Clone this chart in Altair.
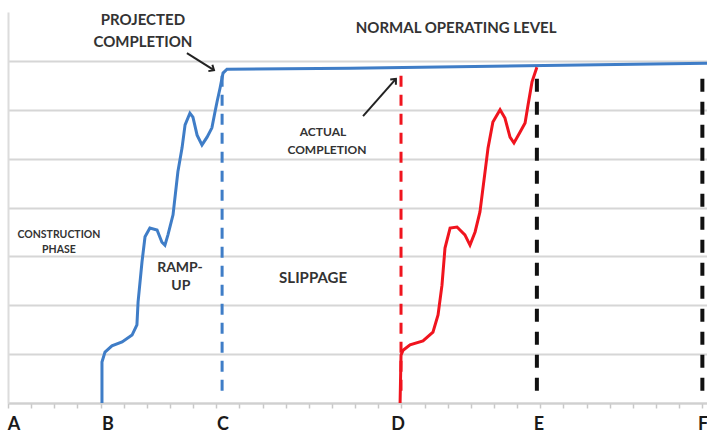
import altair as alt
import pandas as pd

# ---- data ----
# projected (blue) ramp-up curve and normal operating level
blue_x = [4.06, 4.06, 4.19, 4.49, 4.93, 5.36, 5.57, 5.62, 5.79, 5.92, 6.13, 6.44, 6.65, 6.78,
          6.91, 7.13, 7.34, 7.52, 7.65, 7.86, 7.99, 8.17, 8.38, 8.60, 8.81, 8.94, 9.03, 9.16,
          9.29, 9.46, 14.78, 30.2]
blue_y = [0.0, 0.84, 1.04, 1.17, 1.25, 1.39, 1.60, 2.07, 2.89, 3.40, 3.58, 3.54, 3.29, 3.23,
          3.44, 3.85, 4.73, 5.22, 5.69, 5.93, 5.85, 5.48, 5.28, 5.44, 5.63, 5.95, 6.16, 6.44,
          6.75, 6.83, 6.85, 6.95]
# actual (red) ramp-up curve
red_x = [16.94, 16.98, 17.07, 17.37, 17.93, 18.36, 18.58, 18.75, 18.88, 19.10, 19.40, 19.74,
         19.96, 20.18, 20.39, 20.61, 20.74, 20.95, 21.26, 21.47, 21.69, 21.86, 22.12, 22.34,
         22.47, 22.64, 22.85]
red_y = [0.0, 0.98, 1.08, 1.19, 1.27, 1.45, 1.80, 2.41, 3.17, 3.58, 3.60, 3.44, 3.23, 3.50,
         3.91, 4.73, 5.22, 5.75, 6.00, 5.83, 5.44, 5.32, 5.54, 5.73, 6.10, 6.57, 6.87]

# milestone letters on the time axis
letters = ["A", "B", "C", "D", "E", "F"]
letter_x = [0.26, 4.32, 9.29, 16.85, 22.94, 30.03]

# vertical dashed milestone lines
proj_x = [9.25]
act_x = [16.98]
black_x = [22.85, 30.0]
dash_top = 6.82
dash_bottom = 0.25

# text annotations (one row per line)
note_text = ["NORMAL OPERATING LEVEL", "PROJECTED", "COMPLETION", "ACTUAL", "COMPLETION",
             "CONSTRUCTION", "PHASE", "RAMP-", "UP", "SLIPPAGE"]
note_x = [19.36, 5.83, 5.83, 13.61, 13.78, 2.20, 2.20, 7.43, 7.47, 13.18]
note_y = [7.67, 7.84, 7.39, 5.54, 5.18, 3.44, 3.13, 2.76, 2.39, 2.56]
note_size = [15, 15, 15, 12, 12, 10.5, 10.5, 14, 14, 15]

# arrows: start -> tip
arrow_x1 = [7.73, 15.34]
arrow_y1 = [7.16, 5.87]
arrow_x2 = [8.90, 16.76]
arrow_y2 = [6.81, 6.63]
arrow_angle = [122, 42]

XMAX, YMAX = 30.2, 8

def xe(field):
    return alt.X(field, type="quantitative",
                 scale=alt.Scale(domain=[0, XMAX], nice=False, zero=False),
                 axis=alt.Axis(values=list(range(0, 31)), labels=False, title=None, grid=False,
                               tickSize=5, tickColor="#c8c8c8", tickWidth=1.5,
                               domainColor="#d0d0d0", domainWidth=2))

def ye(field):
    return alt.Y(field, type="quantitative",
                 scale=alt.Scale(domain=[0, YMAX], nice=False, zero=False),
                 axis=alt.Axis(values=list(range(0, 8)), labels=False, title=None, ticks=False,
                               grid=True, gridColor="#d6d6d6", gridWidth=2,
                               domainColor="#dcdcdc", domainWidth=2))

blue_df = pd.DataFrame({"x": blue_x, "y": blue_y, "i": range(len(blue_x))})
red_df = pd.DataFrame({"x": red_x, "y": red_y, "i": range(len(red_x))})

blue_line = alt.Chart(blue_df).mark_line(color="#3f7dc7", strokeWidth=3).encode(
    x=xe("x"), y=ye("y"), order="i:Q")
red_line = alt.Chart(red_df).mark_line(color="#f0141e", strokeWidth=3).encode(
    x=xe("x"), y=ye("y"), order="i:Q")

def vlines(xs, color, width, dash):
    df = pd.DataFrame({"x": xs, "y": [dash_bottom] * len(xs), "y2": [dash_top] * len(xs)})
    return alt.Chart(df).mark_rule(color=color, strokeWidth=width, strokeDash=dash).encode(
        x=xe("x"), y=ye("y"), y2="y2:Q")

proj_rule = vlines(proj_x, "#3f7dc7", 3, [11, 8])
act_rule = vlines(act_x, "#f0141e", 3, [11, 8])
black_rule = vlines(black_x, "#111111", 4, [13, 10])

letter_df = pd.DataFrame({"t": letters, "x": letter_x, "y": [-0.45] * len(letters)})
letter_txt = alt.Chart(letter_df).mark_text(font="Lato", fontWeight="bold", fontSize=18,
                                            color="#1a1a1a", baseline="middle").encode(
    x=xe("x"), y=ye("y"), text="t:N")

note_df = pd.DataFrame({"t": note_text, "x": note_x, "y": note_y, "s": note_size})
note_txt = alt.Chart(note_df).mark_text(font="Lato", fontWeight="bold", color="#333333",
                                        baseline="middle").encode(
    x=xe("x"), y=ye("y"), text="t:N", size=alt.Size("s:Q", scale=None, legend=None))

arrow_df = pd.DataFrame({"x": arrow_x1, "y": arrow_y1, "x2": arrow_x2, "y2": arrow_y2,
                         "a": arrow_angle})
arrow_shaft = alt.Chart(arrow_df).mark_rule(color="#222222", strokeWidth=2).encode(
    x=xe("x"), y=ye("y"), x2="x2:Q", y2="y2:Q")
arrow_head = alt.Chart(arrow_df).mark_point(
    shape="M -0.8 0.9 L 0 0 L 0.8 0.9", filled=False, color="#222222", strokeWidth=2,
    size=90, opacity=1).encode(
    x=xe("x2"), y=ye("y2"), angle=alt.Angle("a:Q", scale=None))

chart = alt.layer(
    proj_rule, act_rule, black_rule, blue_line, red_line,
    arrow_shaft, arrow_head, note_txt, letter_txt
).properties(
    width=699, height=391,
    autosize=alt.AutoSizeParams(type="none"),
    padding={"left": 8, "top": 12, "right": 0, "bottom": 31},
    background="white"
).configure_view(stroke="transparent")

chart.save("out.html", embed_options={"renderer": "svg", "actions": False})
